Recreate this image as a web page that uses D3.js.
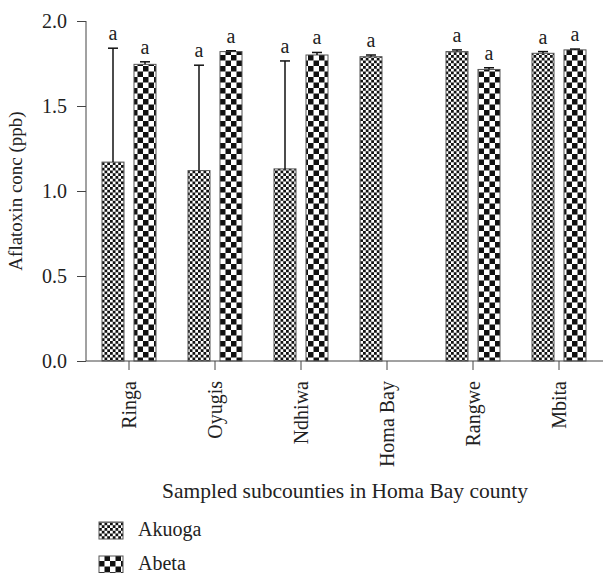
<!DOCTYPE html>
<html><head><meta charset="utf-8">
<script src="https://cdn.jsdelivr.net/npm/d3@7"></script>
<style>body{margin:0;background:#fff}svg{display:block}svg text{font-family:"Liberation Serif",serif !important;fill:#222}</style>
</head><body><svg id="c" width="603" height="573" font-family="Liberation Serif"></svg>
<script>
const categories = ["Ringa","Oyugis","Ndhiwa","Homa Bay","Rangwe","Mbita"];
const seriesNames = ["Akuoga","Abeta"];
const akuoga = [1.17, 1.12, 1.13, 1.79, 1.82, 1.81];
const akuogaErr = [0.67, 0.62, 0.635, 0.01, 0.01, 0.01];
const abeta = [1.745, 1.82, 1.80, null, 1.715, 1.83];
const abetaErr = [0.015, 0.005, 0.015, null, 0.01, 0.005];
const sigLabels = [["a","a","a","a","a","a"],["a","a","a","","a","a"]];
const yTicks = [0, 0.5, 1.0, 1.5, 2.0];

const svg = d3.select("#c");
const defs = svg.append("defs");
function checker(id, s) {
  const p = defs.append("pattern").attr("id", id).attr("patternUnits","userSpaceOnUse")
    .attr("width", 2*s).attr("height", 2*s);
  p.append("rect").attr("width",2*s).attr("height",2*s).attr("fill","#fff");
  p.append("rect").attr("width",s).attr("height",s).attr("fill","#111");
  p.append("rect").attr("x",s).attr("y",s).attr("width",s).attr("height",s).attr("fill","#111");
}
checker("pA", 2.75);
checker("pB", 5.5);

const x = d3.scaleBand().domain(categories).range([86, 602]);
const y = d3.scaleLinear().domain([0, 2]).range([361, 21]);
const off = [-16, 16], bw = 22;
const series = [
  {vals: akuoga, err: akuogaErr, fill: "url(#pA)"},
  {vals: abeta, err: abetaErr, fill: "url(#pB)"}
];

series.forEach((s, si) => {
  categories.forEach((c, i) => {
    const v = s.vals[i];
    if (v == null) return;
    const cx = x(c) + x.bandwidth()/2 + off[si];
    svg.append("rect").attr("x", cx - bw/2).attr("y", y(v)).attr("width", bw).attr("height", y(0) - y(v))
      .attr("fill", s.fill).attr("stroke", "#555").attr("stroke-width", 1);
    const top = y(v + s.err[i]);
    svg.append("line").attr("x1", cx).attr("x2", cx).attr("y1", y(v)).attr("y2", top).attr("stroke","#111").attr("stroke-width",1.5);
    svg.append("line").attr("x1", cx-5).attr("x2", cx+5).attr("y1", top).attr("y2", top).attr("stroke","#111").attr("stroke-width",1.5);
    svg.append("text").attr("x", cx).attr("y", top - 8).attr("text-anchor","middle").attr("font-size",20).text(sigLabels[si][i]);
  });
});

const yAxis = svg.append("g").attr("transform","translate(86,0)")
  .call(d3.axisLeft(y).tickValues(yTicks).tickFormat(d3.format(".1f")).tickSize(9).tickPadding(10));
yAxis.attr("font-family", null).attr("font-size", null);
yAxis.selectAll("text").attr("font-size",20).attr("dy","0.34em");
yAxis.selectAll("line,path").attr("stroke","#444");
yAxis.select("path").attr("d","M0,21V361");

const xAxis = svg.append("g").attr("transform","translate(0,361)")
  .call(d3.axisBottom(x).tickSize(9).tickSizeOuter(0));
xAxis.attr("font-family", null).attr("font-size", null);
xAxis.select("path").attr("d","M86,0H603").attr("stroke","#444");
xAxis.selectAll("line").attr("stroke","#444");
xAxis.selectAll("text").attr("font-size",20)
  .attr("transform","rotate(-90)").attr("text-anchor","end").attr("x",-20).attr("y",0).attr("dy","0.33em");

svg.append("text").attr("x",345).attr("y",498).attr("text-anchor","middle").attr("font-size",21.5).text("Sampled subcounties in Homa Bay county");
svg.append("text").attr("transform","translate(22,191) rotate(-90)").attr("text-anchor","middle").attr("font-size",19).text("Aflatoxin conc (ppb)");

const lg = svg.append("g");
seriesNames.forEach((n, i) => {
  const yy = 522 + i*34;
  lg.append("rect").attr("x",99).attr("y",yy).attr("width",24).attr("height",17).attr("fill", series[i].fill).attr("stroke","#555");
  lg.append("text").attr("x",138).attr("y",yy+14).attr("font-size",20).text(n);
});
</script></body></html>
